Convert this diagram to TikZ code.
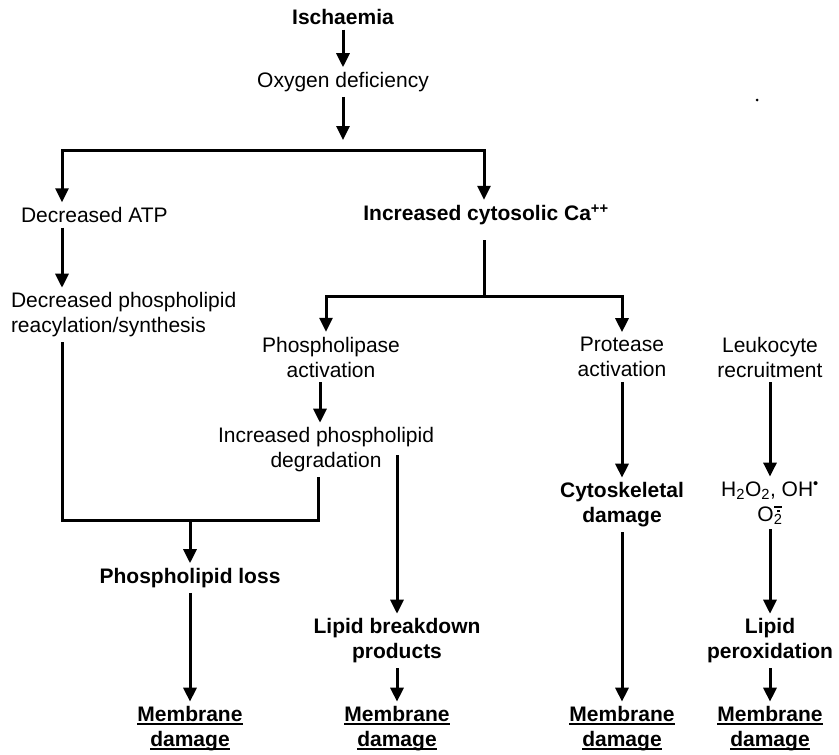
\documentclass[tikz,border=0pt]{standalone}
\usepackage{fontspec}
\setmainfont{Liberation Sans}
\usetikzlibrary{arrows.meta}
\newcommand{\undl}[1]{\setbox0\hbox{#1}\rlap{\rule[-3.5pt]{\wd0}{2pt}}\box0}
\newcommand{\supox}{O\rlap{\hspace{0.03em}\raisebox{0.62em}{\rule{0.36em}{0.09em}}}\rlap{\hspace{0.15em}\raisebox{0.42em}{\rule{0.13em}{0.13em}}}\textsubscript{2}}
\begin{document}
\begin{tikzpicture}[x=1pt,y=-1pt,
  txt/.style={font=\fontsize{21}{25}\selectfont, align=center, inner sep=2pt, outer sep=3pt},
  btxt/.style={txt, font=\fontsize{21}{25}\selectfont\bfseries},
  link/.style={line width=3pt},
  arr/.style={line width=3pt, -{Triangle[width=13pt,length=14pt]}},
]
\useasboundingbox (0,0) rectangle (839,755);
% reference columns
\coordinate (L) at (62,0);
\coordinate (R) at (484,0);
% nodes
\node[btxt] (isch) at (343,17) {Ischaemia};
\node[txt] (oxy) at (343,82) {Oxygen deficiency};
\node[txt, anchor=west] (atp) at (16,215) {Decreased ATP};
\node[txt, anchor=west, align=left] (dps) at (6,315) {Decreased phospholipid\\reacylation/synthesis};
\node[btxt] (ca) at (486,215) {Increased cytosolic Ca\textsuperscript{++}};
\node[txt] (pla) at (331,357) {Phospholipase\\activation};
\node[txt] (ipd) at (326,450) {Increased phospholipid\\degradation};
\node[btxt] (pll) at (190,578) {Phospholipid loss};
\node[btxt] (lbp) at (397,641) {Lipid breakdown\\products};
\node[txt] (pra) at (622,357) {Protease\\activation};
\node[btxt] (cyt) at (622,505) {Cytoskeletal\\damage};
\node[txt] (leu) at (770,357) {Leukocyte\\recruitment};
\node[txt] (ros) at (770,503) {H\textsubscript{2}O\textsubscript{2}, OH\textsuperscript{•}\\\supox};
\node[btxt] (lpo) at (770,641) {Lipid\\peroxidation};
\node[btxt] (md1) at (190,729) {\undl{Membrane}\\\undl{damage}};
\node[btxt] (md2) at (397,729) {\undl{Membrane}\\\undl{damage}};
\node[btxt] (md3) at (622,729) {\undl{Membrane}\\\undl{damage}};
\node[btxt] (md4) at (770,729) {\undl{Membrane}\\\undl{damage}};
% junction coordinates
\coordinate (j1) at (343,150);
\coordinate (j2) at (484,296);
\coordinate (bkt) at (190,520);
\coordinate (lb0) at (397,455);
\coordinate (pl) at (326,0);
\coordinate (pd) at (320,0);
\coordinate (pb) at (318,0);
% connectors
\draw[arr] (isch) -- (oxy);
\draw[arr] (oxy) -- ([yshift=10pt]j1);
\draw[arr] (j1) -| (atp.north -| L);
\draw[arr] (j1) -| (ca.north -| R);
\draw[arr] (atp.south -| L) -- (dps.north -| L);
\draw[link] (dps.south -| L) |- (bkt) -| (ipd.south -| pb);
\draw[arr] (bkt) -- (pll);
\draw[arr] (pll) -- (md1);
\draw[link] ([yshift=-10pt]ca.south -| R) -- (j2);
\draw[arr] (j2) -| (pla.north -| pl);
\draw[arr] (j2) -| (pra.north);
\draw[arr] (pla.south -| pd) -- (ipd.north -| pd);
\draw[arr] (lb0) -- (lbp);
\draw[arr] (lbp) -- (md2);
\draw[arr] (pra) -- (cyt);
\draw[arr] (cyt) -- (md3);
\draw[arr] (leu) -- (ros);
\draw[arr] (ros) -- (lpo);
\draw[arr] (lpo) -- (md4);
\fill (757,100) circle (1.5);
\end{tikzpicture}
\end{document}
